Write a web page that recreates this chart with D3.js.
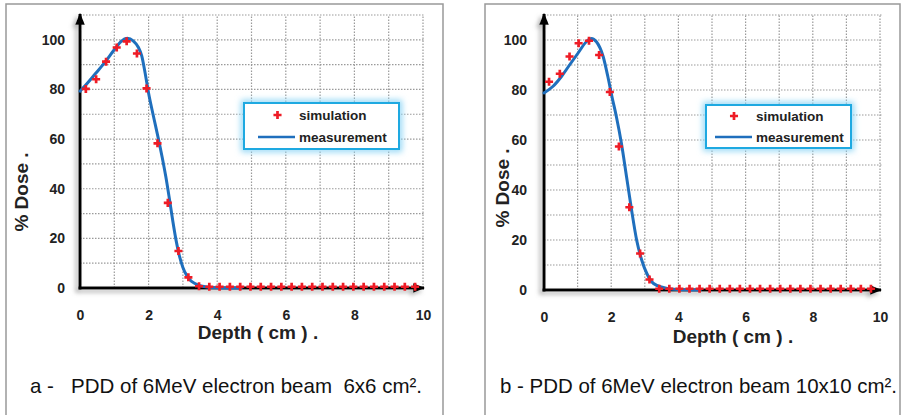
<!DOCTYPE html>
<html>
<head>
<meta charset="utf-8">
<script src="https://cdn.jsdelivr.net/npm/d3@7"></script>
<style>
  html, body { margin: 0; padding: 0; background: #fff; }
  svg { display: block; }
  text { font-family: "Liberation Sans", Arial, sans-serif; }
</style>
</head>
<body>
<svg id="chart" width="906" height="415"></svg>
<script>
// ---------------- DATA ----------------
const xTicks = [0, 2, 4, 6, 8, 10];
const yTicks = [0, 20, 40, 60, 80, 100];
const xGrid = [0, 1, 2, 3, 4, 5, 6, 7, 8, 9, 10];
const yGrid = [10, 20, 30, 40, 50, 60, 70, 80, 90, 100, 110];
const legendLabels = ["simulation", "measurement"];
const xTitle = "Depth ( cm ) .";
const yTitle = "% Dose .";
const captionA = "a -   PDD of 6MeV electron beam  6x6 cm².";
const captionB = "b - PDD of 6MeV electron beam 10x10 cm².";

// Panel a: 6x6 cm²
const simXa = [0.17, 0.47, 0.76, 1.07, 1.36, 1.66, 1.94, 2.26, 2.56, 2.87, 3.16, 3.47, 3.77, 4.07, 4.37, 4.67, 4.97, 5.27, 5.57, 5.87, 6.17, 6.47, 6.77, 7.07, 7.37, 7.67, 7.97, 8.27, 8.57, 8.87, 9.17, 9.47, 9.77];
const simYa = [80.2, 84.1, 91.2, 96.9, 99.4, 94.5, 80.4, 58.3, 34.3, 14.9, 4.3, 0.7, 0.5, 0.5, 0.5, 0.5, 0.5, 0.5, 0.5, 0.5, 0.5, 0.5, 0.5, 0.5, 0.5, 0.5, 0.5, 0.5, 0.5, 0.5, 0.5, 0.5, 0.5];
const measXa = [0, 0.2, 0.44, 0.73, 1.02, 1.2, 1.38, 1.55, 1.7, 1.8, 1.9, 2.0, 2.1, 2.2, 2.3, 2.4, 2.5, 2.6, 2.7, 2.8, 2.9, 3.0, 3.1, 3.2, 3.35, 3.5, 3.7, 4.0, 4.7];
const measYa = [79.3, 82.3, 86.2, 91, 96.4, 99.4, 100.6, 99.6, 97, 93.5, 86.5, 78.5, 71.8, 65.5, 59.2, 52.4, 45, 36.5, 27.5, 19.3, 12.8, 8.3, 5.3, 3.3, 1.8, 0.9, 0.4, 0.1, 0];

// Panel b: 10x10 cm²
const simXb = [0.15, 0.47, 0.76, 1.03, 1.34, 1.64, 1.96, 2.23, 2.54, 2.86, 3.14, 3.43, 3.73, 4.03, 4.33, 4.63, 4.93, 5.23, 5.53, 5.83, 6.13, 6.43, 6.73, 7.03, 7.33, 7.63, 7.93, 8.23, 8.53, 8.83, 9.13, 9.43, 9.73];
const simYb = [83.3, 86.5, 93.4, 98.7, 99.7, 94.0, 79.2, 57.4, 33.1, 14.6, 4.2, 0.5, 0.5, 0.5, 0.5, 0.5, 0.5, 0.5, 0.5, 0.5, 0.5, 0.5, 0.5, 0.5, 0.5, 0.5, 0.5, 0.5, 0.5, 0.5, 0.5, 0.5, 0.5];
const measXb = [0, 0.27, 0.52, 0.76, 1.01, 1.26, 1.41, 1.56, 1.76, 1.9, 2.02, 2.15, 2.3, 2.46, 2.61, 2.76, 2.91, 3.06, 3.26, 3.55, 3.85, 4.65];
const measYb = [78.8, 81.5, 85.4, 90, 94.7, 99.3, 100.6, 99.3, 93.4, 85.4, 77.5, 69.6, 59, 45, 31.7, 19.8, 11.9, 6.6, 2.6, 1.0, 0.3, 0];

// ---------------- LAYOUT ----------------
const panels = [
  {
    frame: [6, 4, 437, 430],
    x0: 80, x1: 423, y0: 288, yTop: 15,
    sim: [simXa, simYa], meas: [measXa, measYa],
    yLabelX: 65, xLabelY: 320,
    xTitleX: 258, xTitleY: 339,
    yTitleX: 28, yTitleY: 192,
    legend: { x: 244, y: 103, w: 155, h: 46, mx: 277.5, my: 115, lx0: 258, lx1: 295, ly: 137, tx: 299, t1y: 120, t2y: 142 },
    caption: captionA, capX: 30, capY: 393, capW: 392
  },
  {
    frame: [485, 4, 415, 430],
    x0: 544, x1: 880, y0: 290, yTop: 15,
    sim: [simXb, simYb], meas: [measXb, measYb],
    yLabelX: 527, xLabelY: 322,
    xTitleX: 733, xTitleY: 343,
    yTitleX: 509, yTitleY: 188,
    legend: { x: 706, y: 105, w: 145, h: 43, mx: 734, my: 116, lx0: 715, lx1: 752, ly: 137, tx: 756, t1y: 121, t2y: 142 },
    caption: captionB, capX: 500, capY: 393, capW: 397
  }
];

const svg = d3.select("#chart");
const defs = svg.append("defs");

const sh = defs.append("filter").attr("id", "axShadow")
  .attr("x", "-50%").attr("y", "-50%").attr("width", "200%").attr("height", "200%");
sh.append("feDropShadow").attr("dx", -3).attr("dy", 3).attr("stdDeviation", 2)
  .attr("flood-color", "#808080").attr("flood-opacity", 0.6);

const glow = defs.append("filter").attr("id", "glow")
  .attr("x", "-20%").attr("y", "-40%").attr("width", "140%").attr("height", "180%");
glow.append("feGaussianBlur").attr("stdDeviation", 3);

const soft = defs.append("filter").attr("id", "soft")
  .attr("x", "-50%").attr("y", "-50%").attr("width", "200%").attr("height", "200%");
soft.append("feGaussianBlur").attr("stdDeviation", 0.4);

defs.append("marker").attr("id", "arrow")
  .attr("viewBox", "0 0 10 10").attr("refX", 9).attr("refY", 5)
  .attr("markerWidth", 4).attr("markerHeight", 4).attr("markerUnits", "strokeWidth")
  .attr("orient", "auto")
  .append("path").attr("d", "M0,1 L10,5 L0,9 z").attr("fill", "#000");

panels.forEach(p => {
  const g = svg.append("g");
  // frame
  g.append("rect").attr("x", p.frame[0]).attr("y", p.frame[1])
    .attr("width", p.frame[2]).attr("height", p.frame[3])
    .attr("fill", "#fff").attr("stroke", "#999").attr("stroke-width", 1.5);

  const x = d3.scaleLinear().domain([0, 10]).range([p.x0, p.x1]);
  const y = d3.scaleLinear().domain([0, 110]).range([p.y0, p.yTop]);

  // grid
  g.append("g").selectAll("line.v").data(xGrid).join("line")
    .attr("x1", d => x(d)).attr("x2", d => x(d))
    .attr("y1", y(0)).attr("y2", y(110))
    .attr("stroke", "#9a9a9a").attr("stroke-width", 1.2).attr("stroke-dasharray", "1.5,1.5");
  g.append("g").selectAll("line.h").data(yGrid).join("line")
    .attr("x1", x(0)).attr("x2", x(10) + 2)
    .attr("y1", d => y(d)).attr("y2", d => y(d))
    .attr("stroke", "#9a9a9a").attr("stroke-width", 1.2).attr("stroke-dasharray", "1.5,1.5");

  // axes lines with arrows
  const ax = g.append("g").attr("filter", "url(#axShadow)");
  ax.append("line").attr("x1", x(0)).attr("x2", x(0)).attr("y1", y(0) + 1.5).attr("y2", y(110) - 1)
    .attr("stroke", "#000").attr("stroke-width", 3).attr("marker-end", "url(#arrow)");
  ax.append("line").attr("x1", x(0) - 1.5).attr("x2", x(10) + 1).attr("y1", y(0)).attr("y2", y(0))
    .attr("stroke", "#000").attr("stroke-width", 3).attr("marker-end", "url(#arrow)");

  // tick labels via d3 axes
  const yAxis = d3.axisLeft(y).tickValues(yTicks).tickSize(0).tickPadding(0).tickFormat(d3.format("d"));
  const yg = g.append("g").attr("transform", `translate(${p.yLabelX},0)`).call(yAxis);
  yg.select(".domain").remove();
  yg.selectAll("text").attr("font-size", 14).attr("font-weight", "bold").attr("fill", "#222")
    .attr("font-family", "'Liberation Sans', Arial, sans-serif");

  const xAxis = d3.axisBottom(x).tickValues(xTicks).tickSize(0).tickPadding(0).tickFormat(d3.format("d"));
  const xg = g.append("g").attr("transform", `translate(0,${p.xLabelY - 10})`).call(xAxis);
  xg.select(".domain").remove();
  xg.selectAll("text").attr("font-size", 14).attr("font-weight", "bold").attr("fill", "#222")
    .attr("font-family", "'Liberation Sans', Arial, sans-serif");

  // titles
  g.append("text").attr("x", p.xTitleX).attr("y", p.xTitleY).attr("text-anchor", "middle")
    .attr("font-size", 19).attr("font-weight", "bold").attr("fill", "#222").text(xTitle);
  g.append("text").attr("transform", `translate(${p.yTitleX},${p.yTitleY}) rotate(-90)`)
    .attr("text-anchor", "middle").attr("font-size", 19).attr("font-weight", "bold")
    .attr("fill", "#222").text(yTitle);

  // measurement curve
  const measData = p.meas[0].map((d, i) => [d, p.meas[1][i]]);
  const line = d3.line().x(d => x(d[0])).y(d => y(d[1])).curve(d3.curveMonotoneX);
  g.append("path").datum(measData).attr("d", line)
    .attr("fill", "none").attr("stroke", "#1f6fbd").attr("stroke-width", 3)
    .attr("stroke-linejoin", "round").attr("stroke-linecap", "round");

  // simulation points
  const simData = p.sim[0].map((d, i) => [d, p.sim[1][i]]);
  const sym = d3.symbol().type(d3.symbolCross).size(36);
  g.append("g").attr("filter", "url(#soft)").selectAll("path").data(simData).join("path")
    .attr("transform", d => `translate(${x(d[0])},${y(d[1])})`)
    .attr("d", sym).attr("fill", "#ee1c25");

  // legend
  const L = p.legend;
  g.append("rect").attr("x", L.x).attr("y", L.y).attr("width", L.w).attr("height", L.h)
    .attr("fill", "none").attr("stroke", "#8fd6f5").attr("stroke-width", 6).attr("filter", "url(#glow)");
  g.append("rect").attr("x", L.x).attr("y", L.y).attr("width", L.w).attr("height", L.h)
    .attr("fill", "#fff").attr("stroke", "#1ea9e1").attr("stroke-width", 2);
  g.append("path").attr("transform", `translate(${L.mx},${L.my})`).attr("d", sym)
    .attr("fill", "#ee1c25").attr("filter", "url(#soft)");
  g.append("line").attr("x1", L.lx0).attr("x2", L.lx1).attr("y1", L.ly).attr("y2", L.ly)
    .attr("stroke", "#1f6fbd").attr("stroke-width", 2.5);
  g.append("text").attr("x", L.tx).attr("y", L.t1y).attr("font-size", 13.5).attr("font-weight", "bold")
    .attr("fill", "#222").text(legendLabels[0]);
  g.append("text").attr("x", L.tx).attr("y", L.t2y).attr("font-size", 13.5).attr("font-weight", "bold")
    .attr("fill", "#222").text(legendLabels[1]);

  // caption
  g.append("text").attr("x", p.capX).attr("y", p.capY)
    .attr("font-family", "'Liberation Sans Narrow', 'Liberation Sans', Arial, sans-serif")
    .attr("font-size", 21).attr("fill", "#111")
    .attr("textLength", p.capW).attr("lengthAdjust", "spacingAndGlyphs")
    .style("white-space", "pre").text(p.caption);
});
</script>
</body>
</html>
